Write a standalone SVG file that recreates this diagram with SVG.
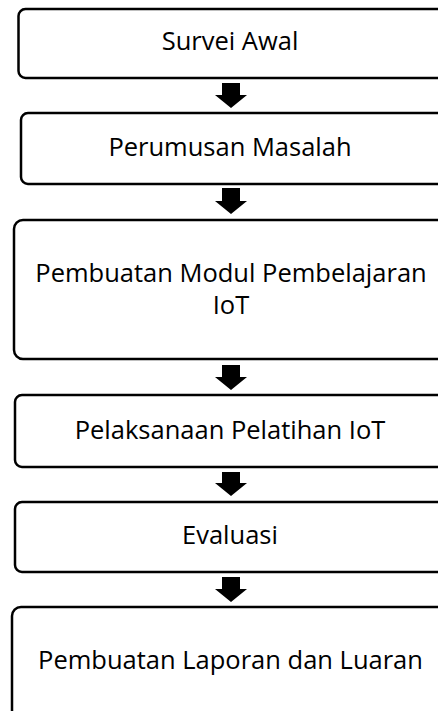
<svg xmlns="http://www.w3.org/2000/svg" width="438" height="711" viewBox="0 0 438 711">
<style>
.box{fill:#fff;stroke:#000;stroke-width:2.5}
.t{font-family:"Open Sans","Noto Sans","DejaVu Sans",sans-serif;font-size:25.5px;fill:#000;text-anchor:middle}
.arr{fill:#000}
</style>
<rect width="438" height="711" fill="#fff"/>
<g id="n1"><rect class="box" x="18.5" y="9" width="440" height="69" rx="7"/><text class="t" x="230" y="50">Survei Awal</text></g>
<g id="n2"><rect class="box" x="21" y="113" width="440" height="71" rx="7"/><text class="t" x="230" y="156">Perumusan Masalah</text></g>
<g id="n3"><rect class="box" x="14" y="220" width="440" height="139" rx="9"/><text class="t" x="231" y="282">Pembuatan Modul Pembelajaran</text><text class="t" x="231" y="314">IoT</text></g>
<g id="n4"><rect class="box" x="15" y="395" width="440" height="72" rx="7"/><text class="t" x="230" y="439">Pelaksanaan Pelatihan IoT</text></g>
<g id="n5"><rect class="box" x="15" y="502" width="440" height="70" rx="7"/><text class="t" x="230" y="544">Evaluasi</text></g>
<g id="n6"><rect class="box" x="12" y="607" width="440" height="120" rx="9"/><text class="t" x="230.5" y="669">Pembuatan Laporan dan Luaran</text></g>
<g id="connectors">
<path class="arr" d="M222 83H240V95H247L231 108L215 95H222Z"/>
<path class="arr" d="M222 188H240V201H247L231 214L215 201H222Z"/>
<path class="arr" d="M222 365H240V377H247L231 390L215 377H222Z"/>
<path class="arr" d="M222 472H240V483H247L231 496L215 483H222Z"/>
<path class="arr" d="M222 577H240V589H247L231 602L215 589H222Z"/>
</g>
</svg>
